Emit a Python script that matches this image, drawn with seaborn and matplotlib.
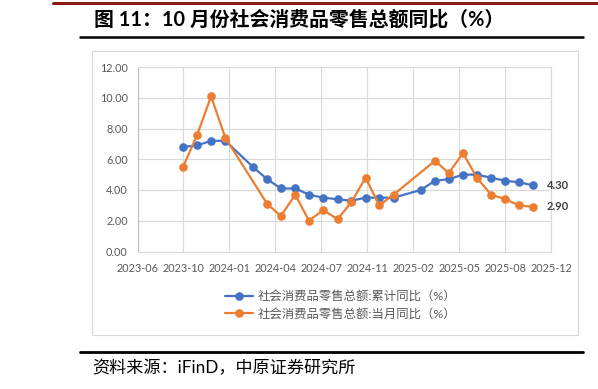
import matplotlib
matplotlib.use("Agg")
import matplotlib.pyplot as plt
import matplotlib.dates as mdates
from matplotlib.lines import Line2D
from matplotlib.patches import Rectangle
import numpy as np
import pandas as pd
import seaborn as sns

# ---------------- data ----------------
cum_months = ["2023-09", "2023-10", "2023-11", "2023-12", "2024-02", "2024-03", "2024-04",
              "2024-05", "2024-06", "2024-07", "2024-08", "2024-09", "2024-10", "2024-11",
              "2024-12", "2025-02", "2025-03", "2025-04", "2025-05", "2025-06", "2025-07",
              "2025-08", "2025-09", "2025-10"]
cum_values = [6.8, 6.9, 7.2, 7.2, 5.5, 4.7, 4.1, 4.1, 3.7, 3.5, 3.4, 3.3, 3.5, 3.5, 3.5,
              4.0, 4.6, 4.7, 5.0, 5.0, 4.8, 4.6, 4.5, 4.3]

mon_months = ["2023-09", "2023-10", "2023-11", "2023-12", "2024-03", "2024-04", "2024-05",
              "2024-06", "2024-07", "2024-08", "2024-09", "2024-10", "2024-11", "2024-12",
              "2025-03", "2025-04", "2025-05", "2025-06", "2025-07", "2025-08", "2025-09",
              "2025-10"]
mon_values = [5.5, 7.6, 10.1, 7.4, 3.1, 2.3, 3.7, 2.0, 2.7, 2.1, 3.2, 4.8, 3.0, 3.7,
              5.9, 5.1, 6.4, 4.8, 3.7, 3.4, 3.0, 2.9]

series_labels = ["社会消费品零售总额:累计同比（%）", "社会消费品零售总额:当月同比（%）"]
title_text = "图 11：10 月份社会消费品零售总额同比（%）"
source_text = "资料来源：iFinD，中原证券研究所"
y_ticks = [0, 2, 4, 6, 8, 10, 12]

# --------------- style ----------------
sns.set_theme(style="white")
plt.rcParams["font.family"] = ["Lato", "Noto Sans CJK SC", "DejaVu Sans"]

W, H = 598, 389
fig = plt.figure(figsize=(W / 100, H / 100), dpi=100)

def fx(px):
    return px / W

def fy(py):
    return 1 - py / H

ax_l, ax_r, ax_t, ax_b = 137.5, 551.3, 67.0, 251.5
ax = fig.add_axes([fx(ax_l), fy(ax_b), fx(ax_r) - fx(ax_l), fy(ax_t) - fy(ax_b)])

blue = "#4472C4"
orange = "#ED7D31"

df_cum = pd.DataFrame({"date": pd.to_datetime(cum_months) + pd.offsets.MonthEnd(0),
                       "value": cum_values})
df_mon = pd.DataFrame({"date": pd.to_datetime(mon_months) + pd.offsets.MonthEnd(0),
                       "value": mon_values})

sns.lineplot(data=df_cum, x="date", y="value", ax=ax, color=blue, linewidth=1.6,
             marker="o", markersize=6.2, markeredgewidth=0, label=series_labels[0])
sns.lineplot(data=df_mon, x="date", y="value", ax=ax, color=orange, linewidth=1.6,
             marker="o", markersize=6.2, markeredgewidth=0, label=series_labels[1])

# x axis: Excel-like date axis, 100-day major unit
start = pd.Timestamp("2023-06-23")
ticks = [start + pd.Timedelta(days=100 * i) for i in range(10)]
ax.set_xlim(start, ticks[-1])
ax.set_xticks(ticks)
ax.xaxis.set_major_formatter(mdates.DateFormatter("%Y-%m"))
ax.set_ylim(0, 12)
ax.set_yticks(y_ticks)
ax.set_yticklabels([f"{v:.2f}" for v in y_ticks])
ax.set_xlabel("")
ax.set_ylabel("")

ax.grid(True, color="#d9d9d9", linewidth=0.8)
ax.set_axisbelow(True)
for s in ax.spines.values():
    s.set_color("#d9d9d9")
    s.set_linewidth(0.8)
ax.spines["left"].set_color("#bfbfbf")
ax.tick_params(axis="both", length=0, labelsize=7.8, colors="#595959")
ax.tick_params(axis="y", pad=7)
ax.tick_params(axis="x", pad=8)

# end labels
for df in (df_cum, df_mon):
    ax.annotate(f"{df['value'].iloc[-1]:.2f}", xy=(df["date"].iloc[-1], df["value"].iloc[-1]),
                xytext=(9.5, 0), textcoords="offset points", va="center", ha="left",
                fontsize=8, fontweight="bold", color="#404040")

# legend
handles = [Line2D([], [], color=blue, lw=1.6, marker="o", markersize=6.2, markeredgewidth=0),
           Line2D([], [], color=orange, lw=1.6, marker="o", markersize=6.2, markeredgewidth=0)]
ax.legend(handles=handles, labels=series_labels, loc="center left",
          bbox_to_anchor=(fx(225), fy(305)), bbox_transform=fig.transFigure,
          frameon=False, fontsize=8.9, handlelength=2.3, handletextpad=0.35,
          borderpad=0, borderaxespad=0, labelspacing=0.45, labelcolor="#595959")

# chart area border
fig.patches.append(Rectangle((fx(92), fy(335)), fx(578) - fx(92), fy(51) - fy(335),
                             transform=fig.transFigure, fill=False, edgecolor="#d9d9d9",
                             linewidth=0.8))

# decorative lines
fig.add_artist(Line2D([fx(53), fx(598)], [fy(2.5), fy(2.5)], color="#8B1A1A", lw=2.2,
                      transform=fig.transFigure))
fig.add_artist(Line2D([fx(80), fx(583)], [fy(36.5), fy(36.5)], color="black", lw=1.8,
                      transform=fig.transFigure))
fig.add_artist(Line2D([fx(80), fx(583)], [fy(352), fy(352)], color="black", lw=2.0,
                      transform=fig.transFigure))

fig.text(fx(94), fy(20), title_text, fontsize=14.3, fontweight="bold", va="center",
         ha="left", color="black")
fig.text(fx(92), fy(368), source_text, fontsize=12.3, va="center", ha="left",
         color="black")

fig.savefig("out.png", dpi=100)
